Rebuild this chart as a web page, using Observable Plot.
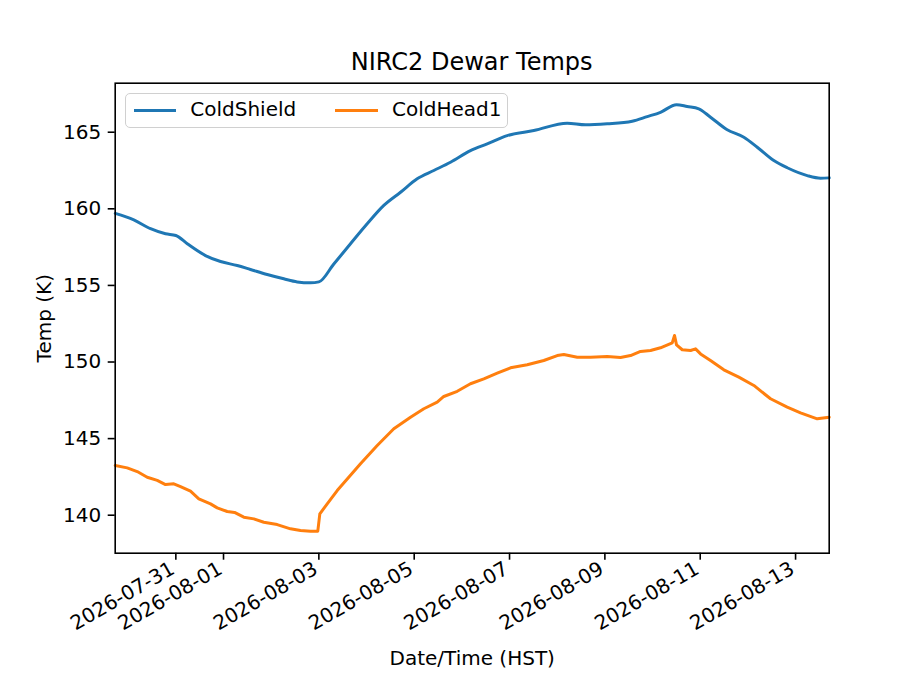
<!DOCTYPE html>
<html>
<head>
<meta charset="utf-8">
<script src="https://cdn.jsdelivr.net/npm/d3@7"></script>
<script src="https://cdn.jsdelivr.net/npm/@observablehq/plot@0.6"></script>
<style>
  html, body { margin: 0; padding: 0; background: #fff; }
  #wrap { position: relative; width: 921px; height: 691px; font-family: "DejaVu Sans", sans-serif; color: #000; overflow: hidden; }
  #title { position: relative; height: 78px; }
  #title span { position: absolute; left: 0; width: 943.4px; text-align: center; top: 50.4px; font-size: 24px; line-height: 24px; white-space: nowrap; }
  #legend { position: absolute; left: 125px; top: 93.3px; width: 383px; height: 34.4px; box-sizing: border-box; border: 1.6px solid #d0d0d0; border-radius: 5px; background: rgba(255,255,255,0.8); font-size: 20px; }
  #legend .sw { position: absolute; top: 14.5px; height: 3px; width: 42.5px; }
  #legend .lb { position: absolute; top: 3px; line-height: 24px; white-space: nowrap; }
  svg { display: block; }
</style>
</head>
<body>
<div id="wrap">
  <div id="title"><span>NIRC2 Dewar Temps</span></div>
</div>
<script>
// ---- data ----
const seriesNames = ["ColdShield", "ColdHead1"];
const seriesColors = ["#1f77b4", "#ff7f0e"];

const shieldTime = [
  "2026-07-29T17:30Z","2026-07-30T02:50Z","2026-07-30T11:15Z","2026-07-30T18:48Z","2026-07-31T00:00Z",
  "2026-07-31T05:45Z","2026-07-31T14:55Z","2026-07-31T22:30Z","2026-08-01T06:55Z","2026-08-01T13:35Z",
  "2026-08-01T22:00Z","2026-08-02T06:20Z","2026-08-02T13:06Z","2026-08-02T19:48Z","2026-08-03T00:00Z",
  "2026-08-03T07:32Z","2026-08-03T15:56Z","2026-08-04T00:20Z","2026-08-04T08:42Z","2026-08-04T17:07Z",
  "2026-08-05T01:30Z","2026-08-05T09:53Z","2026-08-05T18:17Z","2026-08-06T04:20Z","2026-08-06T12:45Z",
  "2026-08-06T22:50Z","2026-08-07T12:13Z","2026-08-08T05:02Z","2026-08-08T14:15Z","2026-08-09T01:10Z",
  "2026-08-09T13:45Z","2026-08-09T21:19Z","2026-08-10T04:00Z","2026-08-10T12:04Z","2026-08-10T17:27Z",
  "2026-08-10T23:18Z","2026-08-11T05:11Z","2026-08-11T13:35Z","2026-08-11T21:57Z","2026-08-12T04:42Z",
  "2026-08-12T13:03Z","2026-08-12T19:48Z","2026-08-13T05:52Z","2026-08-13T12:34Z","2026-08-13T16:56Z"
];
const shieldTemp = [
  159.70,159.28,158.70,158.37,158.26,
  157.72,156.95,156.56,156.30,156.04,
  155.71,155.43,155.23,155.17,155.23,
  156.40,157.72,159.02,160.22,161.08,
  161.96,162.50,163.04,163.80,164.24,
  164.78,165.11,165.59,165.48,165.55,
  165.72,166.02,166.30,166.80,166.68,
  166.53,165.98,165.16,164.67,164.02,
  163.15,162.68,162.17,162.00,162.02
];

const headTime = [
  "2026-07-29T17:30Z","2026-07-29T23:30Z","2026-07-30T04:33Z","2026-07-30T09:35Z","2026-07-30T14:38Z",
  "2026-07-30T18:48Z","2026-07-30T22:58Z","2026-07-31T02:21Z","2026-07-31T07:23Z","2026-07-31T11:34Z",
  "2026-07-31T17:27Z","2026-07-31T20:50Z","2026-08-01T01:52Z","2026-08-01T05:32Z","2026-08-01T10:13Z",
  "2026-08-01T15:16Z","2026-08-01T20:17Z","2026-08-02T03:02Z","2026-08-02T09:43Z","2026-08-02T14:46Z",
  "2026-08-02T19:48Z","2026-08-02T23:28Z","2026-08-03T00:29Z","2026-08-03T04:12Z","2026-08-03T09:14Z",
  "2026-08-03T20:58Z","2026-08-04T05:23Z","2026-08-04T13:44Z","2026-08-04T22:09Z","2026-08-05T04:51Z",
  "2026-08-05T11:35Z","2026-08-05T14:54Z","2026-08-05T21:40Z","2026-08-06T04:20Z","2026-08-06T11:03Z",
  "2026-08-06T17:48Z","2026-08-07T00:30Z","2026-08-07T08:54Z","2026-08-07T17:15Z","2026-08-08T00:00Z",
  "2026-08-08T03:20Z","2026-08-08T10:05Z","2026-08-08T16:47Z","2026-08-09T01:10Z","2026-08-09T07:52Z",
  "2026-08-09T12:55Z","2026-08-09T17:57Z","2026-08-09T23:00Z","2026-08-10T04:00Z","2026-08-10T09:55Z",
  "2026-08-10T11:04Z","2026-08-10T12:04Z","2026-08-10T14:57Z","2026-08-10T19:08Z","2026-08-10T21:39Z",
  "2026-08-11T00:10Z","2026-08-11T05:11Z","2026-08-11T11:53Z","2026-08-11T19:26Z","2026-08-12T03:00Z",
  "2026-08-12T11:24Z","2026-08-12T19:48Z","2026-08-13T02:30Z","2026-08-13T10:54Z","2026-08-13T16:56Z"
];
const headTemp = [
  143.24,143.09,142.85,142.48,142.27,
  142.00,142.05,141.87,141.57,141.07,
  140.74,140.48,140.24,140.18,139.87,
  139.76,139.54,139.39,139.11,139.00,
  138.96,138.96,140.09,140.74,141.61,
  143.36,144.55,145.64,146.40,146.95,
  147.38,147.75,148.09,148.58,148.90,
  149.27,149.62,149.82,150.10,150.42,
  150.49,150.31,150.31,150.36,150.29,
  150.42,150.69,150.75,150.93,151.25,
  151.73,151.12,150.80,150.75,150.86,
  150.53,150.10,149.49,149.01,148.47,
  147.60,147.05,146.68,146.29,146.40
];

const xTicks = ["2026-07-31","2026-08-01","2026-08-03","2026-08-05","2026-08-07","2026-08-09","2026-08-11","2026-08-13"];
const yTicks = [140, 145, 150, 155, 160, 165];
const xDomain = ["2026-07-29T17:28Z", "2026-08-13T16:56Z"];
const yDomain = [137.52, 168.2];

// ---- build tables ----
const shieldRows = shieldTime.map((t, i) => ({series: seriesNames[0], time: new Date(t), temp: shieldTemp[i]}));
const headRows = headTime.map((t, i) => ({series: seriesNames[1], time: new Date(t), temp: headTemp[i]}));
const xTickDates = xTicks.map(d => new Date(d + "T00:00Z"));

const chart = Plot.plot({
  width: 921,
  height: 613,
  marginTop: 4.7,
  marginBottom: 138.3,
  marginLeft: 114.7,
  marginRight: 92.3,
  style: {fontFamily: "DejaVu Sans", fontSize: "20px", color: "#000", background: "#fff", overflow: "visible"},
  x: {type: "utc", domain: xDomain.map(d => new Date(d))},
  y: {domain: yDomain},
  color: {domain: seriesNames, range: seriesColors},
  marks: [
    Plot.line(shieldRows, {x: "time", y: "temp", stroke: "series", strokeWidth: 3, curve: "monotone-x", strokeLinejoin: "round"}),
    Plot.line(headRows, {x: "time", y: "temp", stroke: "series", strokeWidth: 3, strokeLinejoin: "round"}),
    // tick marks only
    Plot.axisX({
      ticks: xTickDates,
      tickFormat: () => "",
      tickSize: 7,
      strokeWidth: 1.6,
      label: null
    }),
    // rotated tick labels + axis label
    Plot.axisX({
      ticks: xTickDates,
      tickFormat: d3.utcFormat("%Y-%m-%d"),
      tickRotate: -30,
      tickSize: 0,
      tickPadding: 14,
      dx: -3,
      label: "Date/Time (HST)",
      labelAnchor: "center",
      labelArrow: "none",
      labelOffset: 112
    }),
    Plot.axisY({
      ticks: yTicks,
      tickSize: 7,
      tickPadding: 7,
      strokeWidth: 1.6,
      label: "Temp (K)",
      labelAnchor: "center",
      labelArrow: "none",
      labelOffset: 78.7
    }),
    Plot.frame({stroke: "#000", strokeWidth: 1.6})
  ]
});

const wrap = document.getElementById("wrap");
wrap.appendChild(chart);

// legend (HTML overlay in the upper-left of the axes)
const legend = document.createElement("div");
legend.id = "legend";
const swX = [7.7, 209];
const lbX = [64.3, 266];
seriesNames.forEach((name, i) => {
  const sw = document.createElement("div");
  sw.className = "sw";
  sw.style.left = swX[i] + "px";
  sw.style.background = seriesColors[i];
  legend.appendChild(sw);
  const lb = document.createElement("div");
  lb.className = "lb";
  lb.style.left = lbX[i] + "px";
  lb.textContent = name;
  legend.appendChild(lb);
});
wrap.appendChild(legend);
</script>
</body>
</html>
